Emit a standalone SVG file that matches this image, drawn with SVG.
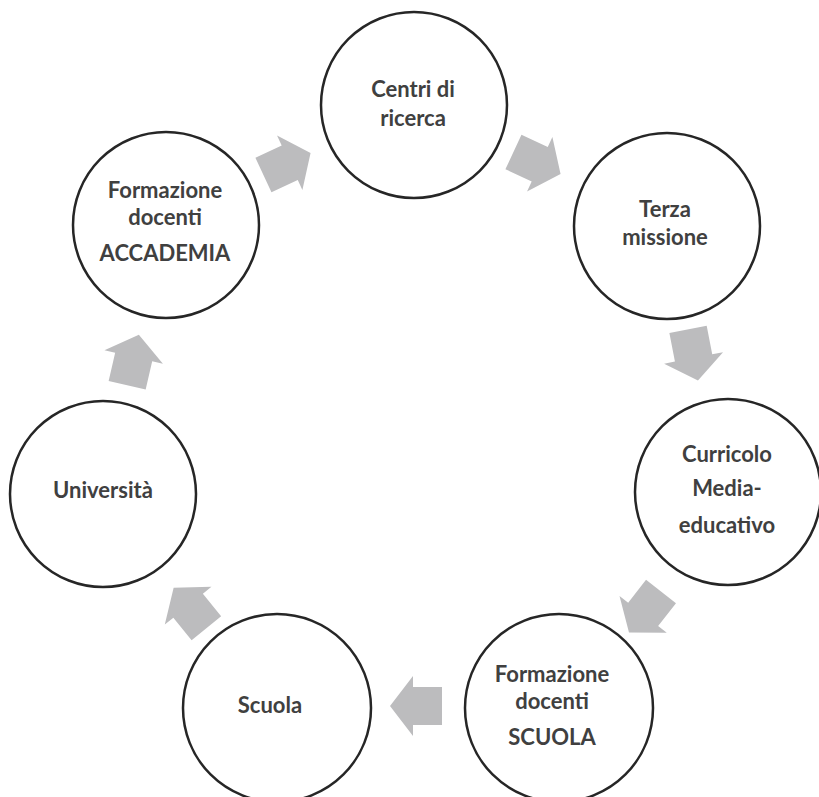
<svg xmlns="http://www.w3.org/2000/svg" width="819" height="797" viewBox="0 0 819 797">
<style>
.node circle{fill:#fff;stroke:#262626;stroke-width:2.5}
.node text{font-family:Lato,"Liberation Sans",sans-serif;font-weight:bold;font-size:22px;fill:#404040;text-anchor:middle}
.arrow{fill:#bcbcbe}
</style>
<defs>
<polygon id="blk" points="-26,-19 3,-19 3,-30 26,0 3,30 3,19 -26,19"/>
</defs>
<rect width="819" height="797" fill="#fff"/>
<g id="connectors">
<use href="#blk" class="arrow" transform="translate(287,164) rotate(-25)"/>
<use href="#blk" class="arrow" transform="translate(537,163) rotate(25)"/>
<use href="#blk" class="arrow" transform="translate(693,355) rotate(79)"/>
<use href="#blk" class="arrow" transform="translate(645,612) rotate(128)"/>
<use href="#blk" class="arrow" transform="translate(416,706) rotate(180)"/>
<use href="#blk" class="arrow" transform="translate(190,608) rotate(231)"/>
<use href="#blk" class="arrow" transform="translate(133,360) rotate(-77)"/>
</g>
<g id="centri" class="node"><circle cx="414" cy="105" r="93"/><text x="413" y="97">Centri di</text><text x="413" y="126">ricerca</text></g>
<g id="terza" class="node"><circle cx="667" cy="226" r="93"/><text x="665" y="217">Terza</text><text x="665" y="245">missione</text></g>
<g id="curricolo" class="node"><circle cx="728" cy="492" r="93"/><text x="727" y="462">Curricolo</text><text x="727" y="496">Media-</text><text x="727" y="533">educativo</text></g>
<g id="formazione-scuola" class="node"><circle cx="559" cy="708" r="94"/><text x="552" y="682">Formazione</text><text x="552" y="709">docenti</text><text x="552" y="745">SCUOLA</text></g>
<g id="scuola" class="node"><circle cx="277" cy="708" r="94"/><text x="270" y="713">Scuola</text></g>
<g id="universita" class="node"><circle cx="103" cy="494" r="93"/><text x="103" y="498">Università</text></g>
<g id="formazione-accademia" class="node"><circle cx="166" cy="225" r="93"/><text x="165" y="198">Formazione</text><text x="165" y="225">docenti</text><text x="165" y="261">ACCADEMIA</text></g>
</svg>
